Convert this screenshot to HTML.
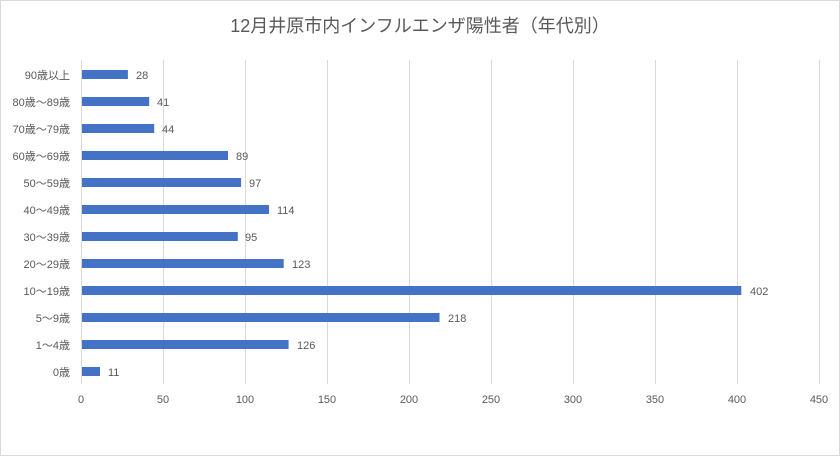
<!DOCTYPE html>
<html><head><meta charset="utf-8"><style>
html,body{margin:0;padding:0;background:#fff}
svg{display:block}
text{font-family:"Liberation Sans","Noto Sans CJK JP",sans-serif;fill:#595959}
</style></head><body>
<svg width="840" height="456" viewBox="0 0 840 456" xmlns="http://www.w3.org/2000/svg">
<rect x="0.5" y="0.5" width="839" height="455" fill="#fff" stroke="#d9d9d9"/>
<text x="420" y="32" text-anchor="middle" font-size="18">12月井原市内インフルエンザ陽性者（年代別）</text>
<g stroke="#d9d9d9" stroke-width="1">
<line x1="81.5" y1="60" x2="81.5" y2="384"/>
<line x1="163.5" y1="60" x2="163.5" y2="384"/>
<line x1="245.5" y1="60" x2="245.5" y2="384"/>
<line x1="327.5" y1="60" x2="327.5" y2="384"/>
<line x1="409.5" y1="60" x2="409.5" y2="384"/>
<line x1="491.5" y1="60" x2="491.5" y2="384"/>
<line x1="573.5" y1="60" x2="573.5" y2="384"/>
<line x1="655.5" y1="60" x2="655.5" y2="384"/>
<line x1="737.5" y1="60" x2="737.5" y2="384"/>
<line x1="819.5" y1="60" x2="819.5" y2="384"/>
</g>
<g font-size="11" text-anchor="middle">
<text x="81" y="403">0</text><text x="163" y="403">50</text><text x="245" y="403">100</text>
<text x="327" y="403">150</text><text x="409" y="403">200</text><text x="491" y="403">250</text>
<text x="573" y="403">300</text><text x="655" y="403">350</text><text x="737" y="403">400</text>
<text x="819" y="403">450</text>
</g>
<g fill="#4472c4">
<rect x="82" y="70" width="45.9" height="9"/>
<rect x="82" y="97" width="67.2" height="9"/>
<rect x="82" y="124" width="72.2" height="9"/>
<rect x="82" y="151" width="146" height="9"/>
<rect x="82" y="178" width="159.1" height="9"/>
<rect x="82" y="205" width="187" height="9"/>
<rect x="82" y="232" width="155.8" height="9"/>
<rect x="82" y="259" width="201.7" height="9"/>
<rect x="82" y="286" width="659.3" height="9"/>
<rect x="82" y="313" width="357.5" height="9"/>
<rect x="82" y="340" width="206.6" height="9"/>
<rect x="82" y="367" width="18" height="9"/>
</g>
<g font-size="11">
<text x="136" y="79">28</text>
<text x="157" y="106">41</text>
<text x="162" y="133">44</text>
<text x="236" y="160">89</text>
<text x="249" y="187">97</text>
<text x="277" y="214">114</text>
<text x="245" y="241">95</text>
<text x="292" y="268">123</text>
<text x="750" y="295">402</text>
<text x="448" y="322">218</text>
<text x="297" y="349">126</text>
<text x="108" y="376">11</text>
</g>
<g font-size="11" text-anchor="end">
<text x="70" y="79">90歳以上</text>
<text x="70" y="106">80歳～89歳</text>
<text x="70" y="133">70歳～79歳</text>
<text x="70" y="160">60歳～69歳</text>
<text x="70" y="187">50～59歳</text>
<text x="70" y="214">40～49歳</text>
<text x="70" y="241">30～39歳</text>
<text x="70" y="268">20～29歳</text>
<text x="70" y="295">10～19歳</text>
<text x="70" y="322">5～9歳</text>
<text x="70" y="349">1～4歳</text>
<text x="70" y="376">0歳</text>
</g>
</svg>
</body></html>
